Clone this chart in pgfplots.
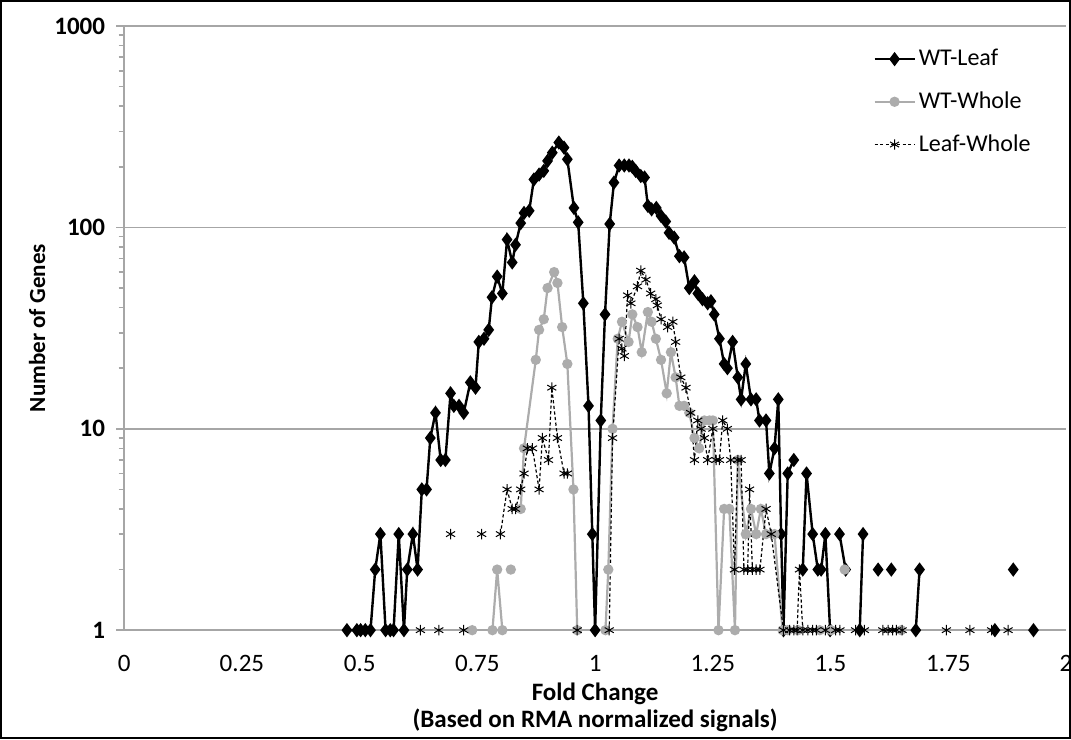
\documentclass[border=0pt]{standalone}
\usepackage{pgfplots}
\pgfplotsset{compat=1.18}
\usepackage{fontspec}
\setmainfont{Carlito}

\definecolor{gridgray}{RGB}{166,166,166}
\definecolor{wholegray}{RGB}{172,172,172}

% counts per fold-change bin; nan = no genes (gap in the line)
\pgfplotstableread{
x      y
0.473  1
0.494  1
0.502  1
0.512  1
0.523  1
0.533  2
0.544  3
0.555  1
0.565  1
0.572  1
0.583  3
0.594  1
0.601  2
0.613  3
0.623  2
0.632  5
0.642  5
0.650  9
0.661  12
0.672  7
0.682  7
0.693  15
0.700  13
0.711  13
0.721  12
0.735  17
0.746  16
0.753  27
0.764  28
0.774  31
0.781  45
0.792  57
0.803  47
0.813  87
0.824  67
0.831  82
0.842  105
0.849  118
0.860  121
0.870  173
0.881  183
0.891  191
0.899  214
0.909  235
0.923  264
0.934  249
0.941  218
0.955  125
0.964  106
0.975  42
0.986  13
0.994  3
1.000  1
1.012  11
1.021  37
1.031  104
1.040  167
1.051  203
1.062  203
1.072  203
1.079  200
1.086  191
1.097  180
1.105  177
1.112  128
1.120  123
1.130  125
1.140  114
1.150  107
1.157  94
1.168  89
1.179  72
1.189  71
1.200  50
1.211  54
1.218  47
1.228  44
1.239  42
1.246  43
1.253  37
1.264  28
1.274  21
1.281  20
1.292  27
1.303  18
1.310  14
1.320  21
1.331  14
1.342  14
1.349  11
1.363  11
1.370  6
1.381  8
1.389  14
1.395  3
1.400  1
1.409  6
1.422  7
1.431  nan
1.441  2
1.449  6
1.462  3
1.473  2
1.480  2
1.489  3
1.499  1
1.509  nan
1.519  3
1.532  2
1.550  nan
1.562  1
1.569  3
1.590  nan
1.601  2
1.615  nan
1.629  2
1.650  nan
1.681  1
1.689  2
1.750  nan
1.849  1
1.870  nan
1.888  2
1.910  nan
1.931  1
}\wtleaf

\pgfplotstableread{
x      y
0.739  1
0.760  nan
0.782  1
0.792  2
0.803  1
0.812  nan
0.821  2
0.832  nan
0.842  4
0.849  8
0.874  22
0.881  31
0.891  35
0.899  50
0.913  60
0.920  53
0.930  32
0.941  21
0.954  5
0.962  1
0.990  nan
1.022  1
1.028  2
1.037  10
1.048  28
1.057  34
1.071  27
1.079  37
1.090  32
1.099  24
1.112  38
1.120  34
1.129  28
1.140  22
1.152  15
1.161  24
1.171  18
1.179  13
1.189  13
1.200  12
1.211  9
1.221  8
1.232  11
1.243  11
1.250  11
1.262  1
1.274  4
1.285  4
1.297  1
1.303  7
1.320  3
1.331  4
1.342  3
1.352  4
1.363  3
1.381  3
1.398  1
1.409  1
1.420  nan
1.431  1
1.445  nan
1.477  1
1.490  nan
1.501  1
1.515  nan
1.530  2
1.545  nan
1.650  1
}\wtwhole

\pgfplotstableread{
x      y
0.629  1
0.650  nan
0.668  1
0.680  nan
0.693  3
0.705  nan
0.721  1
0.740  nan
0.759  3
0.780  nan
0.799  3
0.813  5
0.824  4
0.831  4
0.842  5
0.849  6
0.856  8
0.867  8
0.881  5
0.888  9
0.901  7
0.908  16
0.920  9
0.934  6
0.941  6
0.950  nan
0.962  1
0.990  nan
1.030  1
1.037  9
1.051  28
1.057  25
1.062  23
1.069  46
1.076  42
1.090  51
1.097  61
1.108  55
1.118  47
1.129  44
1.132  41
1.140  35
1.154  32
1.165  34
1.171  27
1.182  18
1.193  16
1.203  12
1.211  7
1.218  11
1.225  10
1.232  9
1.239  7
1.250  10
1.257  7
1.264  7
1.271  11
1.281  10
1.288  7
1.296  2
1.303  7
1.310  7
1.316  2
1.324  2
1.328  5
1.334  2
1.342  2
1.350  2
1.363  4
1.374  3
1.400  1
1.413  1
1.422  1
1.429  1
1.434  2
1.441  1
1.452  1
1.462  1
1.470  1
1.480  nan
1.489  1
1.500  nan
1.511  1
1.520  1
1.540  nan
1.553  1
1.565  nan
1.572  1
1.590  nan
1.611  1
1.622  1
1.632  1
1.640  1
1.652  1
1.700  nan
1.746  1
1.770  nan
1.796  1
1.820  nan
1.842  1
1.860  nan
1.877  1
}\leafwhole

\begin{document}
\begin{tikzpicture}[font=\fontsize{12}{14}\selectfont]
\begin{axis}[
    name=ax,
    scale only axis,
    width=470pt,
    height=301.5pt,
    xmin=0, xmax=2,
    ymode=log,
    ymin=1, ymax=1000,
    unbounded coords=jump,
    clip=false,
    xtick={0,0.25,0.5,0.75,1,1.25,1.5,1.75,2},
    xticklabels={0,0.25,0.5,0.75,1,1.25,1.5,1.75,2},
    ytick={1,10,100,1000},
    yticklabels={1,10,100,1000},
    yticklabel style={font=\bfseries\fontsize{12.5}{14}\selectfont, xshift=-2pt},
    xticklabel style={font=\fontsize{12.5}{14}\selectfont, yshift=-5pt},
    axis x line*=bottom,
    axis y line*=left,
    axis line style={gridgray, line width=0.8pt},
    ymajorgrids=true,
    grid style={gridgray, line width=0.8pt},
    xtick style={draw=none},
    ytick style={gridgray, line width=0.8pt},
    tick align=outside,
    major tick length=4pt,
    xlabel={Fold Change\\(Based on RMA normalized signals)},
    xlabel style={align=center, font=\bfseries\fontsize{12.5}{13.5}\selectfont,
                  at={(rel axis cs:0.5,0)}, anchor=north, inner sep=0pt, yshift=-26pt},
    ylabel={Number of Genes},
    ylabel style={font=\bfseries\fontsize{11.5}{13}\selectfont,
                  at={([xshift=-43.5pt]rel axis cs:0,0.5)}, anchor=center, rotate=0},
    legend style={draw=none, fill=none, at={(rel axis cs:0.795,0.967)}, anchor=north west,
                  font=\fontsize{12}{14}\selectfont, row sep=8.5pt, inner sep=0pt,
                  nodes={inner sep=1.5pt}},
    legend cell align=left,
    legend image code/.code={%
        \draw[mark repeat=2, mark phase=2, #1] plot coordinates {(0pt,0pt) (10pt,0pt) (20pt,0pt)};},
]
\addplot[black, line width=1.2pt, mark=diamond*, mark size=2.6pt] table[x=x, y=y] {\wtleaf};
\addlegendentry{WT-Leaf}
\addplot[wholegray, line width=1.1pt, mark=*, mark size=2pt] table[x=x, y=y] {\wtwhole};
\addlegendentry{WT-Whole}
\addplot[black, line width=0.6pt, dash pattern=on 1.6pt off 1.2pt, mark=asterisk, mark size=2.6pt,
         mark options={solid, line width=0.5pt}] table[x=x, y=y] {\leafwhole};
\addlegendentry{Leaf-Whole}
\end{axis}
\pgfresetboundingbox
\path[use as bounding box] ([shift={(-62pt,-54.5pt)}]ax.south west) rectangle ([shift={(2.5pt,13pt)}]ax.north east);
\draw[black, line width=1pt] ([shift={(-61.5pt,-54pt)}]ax.south west) rectangle ([shift={(2pt,12.5pt)}]ax.north east);
\end{tikzpicture}
\end{document}
